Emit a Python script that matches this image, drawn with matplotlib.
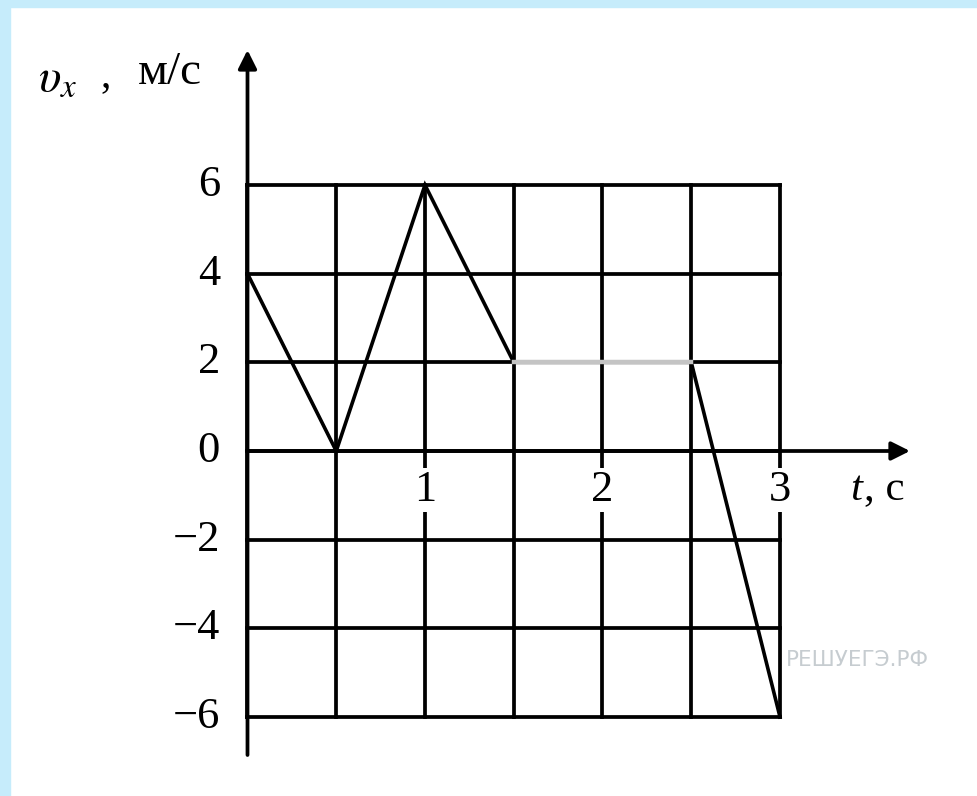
import matplotlib.pyplot as plt
from matplotlib.patches import Rectangle

# velocity vs time
t = [0, 0.5, 1, 1.5, 2.5, 3]
v = [4, 0, 6, 2, 2, -6]

t_ticks = [1, 2, 3]
v_ticks = [-6, -4, -2, 0, 2, 4, 6]
t_grid = [0, 0.5, 1, 1.5, 2, 2.5, 3]

W, H = 977, 796
X0, PX_T = 247.5, 177.5   # pixel of t=0, pixels per second
Y0, PX_V = 451, 44.33     # pixel of v=0, pixels per m/s


def tx(px):
    return (px - X0) / PX_T


def vy(py):
    return (Y0 - py) / PX_V


fig = plt.figure(figsize=(W / 100, H / 100), dpi=100)
ax = fig.add_axes([0, 0, 1, 1])
ax.set_xlim(tx(0), tx(W))
ax.set_ylim(vy(H), vy(0))
ax.axis("off")

# light blue frame on the left and top
fig.patches.append(Rectangle((0, 0), 10 / W, 1, transform=fig.transFigure,
                             color="#c6ecfb", zorder=0))
fig.patches.append(Rectangle((0, 1 - 7 / H), 1, 7 / H, transform=fig.transFigure,
                             color="#c6ecfb", zorder=0))

lw = 2.7
for tg in t_grid:
    ax.plot([tg, tg], [min(v_ticks), max(v_ticks)], color="k", lw=lw, zorder=1)
for vg in v_ticks:
    ax.plot([0, max(t_grid)], [vg, vg], color="k", lw=lw, zorder=1)

# axes with arrows
ax.annotate("", xy=(tx(910), 0), xytext=(0, 0),
            arrowprops=dict(arrowstyle="-|>", lw=lw, color="k", mutation_scale=28,
                            shrinkA=0, shrinkB=0))
ax.annotate("", xy=(0, vy(50)), xytext=(0, vy(755)),
            arrowprops=dict(arrowstyle="-|>", lw=lw, color="k", mutation_scale=28,
                            shrinkA=0, shrinkB=0))

ax.plot(t, v, color="k", lw=2.6, zorder=3, solid_joinstyle="miter")
# the flat part is printed lighter
ax.plot(t[3:5], v[3:5], color="#c4c4c4", lw=3.2, zorder=4)

serif = "Liberation Serif"
for vt in v_ticks:
    lab = str(vt).replace("-", "\u2212")
    ax.text(tx(220), vt, lab, ha="right", va="center",
            fontsize=32, family=serif, zorder=5)
for tt in t_ticks:
    ax.text(tt, vy(490), str(tt), ha="center", va="center",
            fontsize=32, family=serif, zorder=5,
            bbox=dict(boxstyle="square,pad=0.05", fc="white", ec="none"))

ax.text(tx(850), vy(490), "t", ha="left", va="center",
        fontsize=31, family=serif, style="italic")
ax.text(tx(864), vy(490), ", c", ha="left", va="center",
        fontsize=31, family=serif)

plt.rcParams["mathtext.fontset"] = "stix"
ax.text(tx(38), vy(78), r"$\upsilon_x$", ha="left", va="center", fontsize=34)
ax.text(tx(100), vy(76), ",", ha="left", va="center", fontsize=30, family=serif)
ax.text(tx(138), vy(73), "м/с", ha="left", va="center", fontsize=34, family=serif)

ax.text(tx(786), vy(660), "РЕШУЕГЭ.РФ", ha="left", va="center",
        fontsize=15.5, family="DejaVu Sans", color="#c6ccd0")

fig.savefig("out.png", dpi=100, facecolor="white")
